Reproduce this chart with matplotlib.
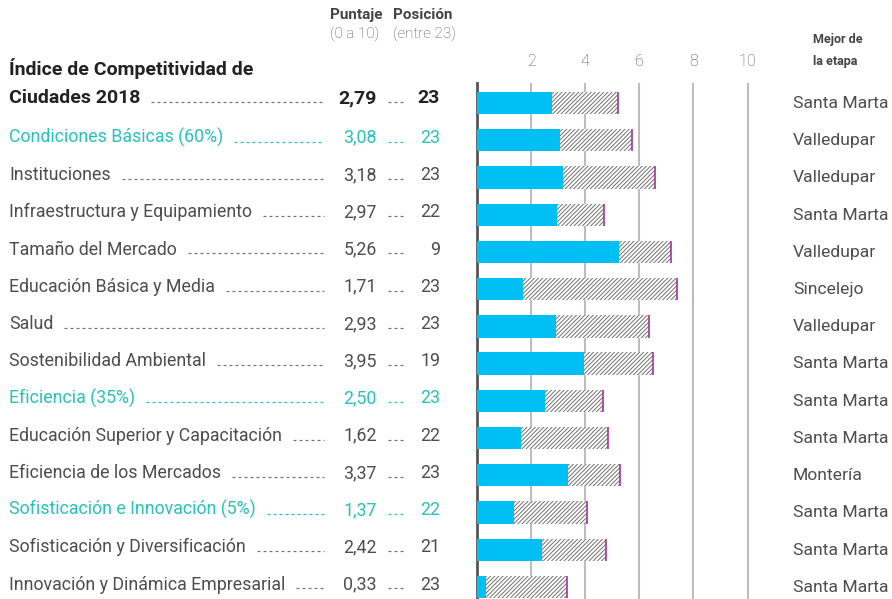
import matplotlib.pyplot as plt
from matplotlib.transforms import blended_transform_factory

plt.rcParams['font.family'] = ['Roboto', 'DejaVu Sans']
plt.rcParams['hatch.linewidth'] = 0.7

# Data
labels = ["Ciudades 2018", "Condiciones Básicas (60%)", "Instituciones",
          "Infraestructura y Equipamiento", "Tamaño del Mercado",
          "Educación Básica y Media", "Salud", "Sostenibilidad Ambiental",
          "Eficiencia (35%)", "Educación Superior y Capacitación",
          "Eficiencia de los Mercados", "Sofisticación e Innovación (5%)",
          "Sofisticación y Diversificación", "Innovación y Dinámica Empresarial"]
scores = [2.79, 3.08, 3.18, 2.97, 5.26, 1.71, 2.93, 3.95, 2.50, 1.62, 3.37, 1.37, 2.42, 0.33]
positions = [23, 23, 23, 22, 9, 23, 23, 19, 23, 22, 23, 22, 21, 23]
best_scores = [5.21, 5.73, 6.58, 4.71, 7.18, 7.40, 6.37, 6.52, 4.67, 4.85, 5.29, 4.07, 4.76, 3.33]
best_city = ["Santa Marta", "Valledupar", "Valledupar", "Santa Marta", "Valledupar",
             "Sincelejo", "Valledupar", "Santa Marta", "Santa Marta", "Santa Marta",
             "Montería", "Santa Marta", "Santa Marta", "Santa Marta"]
pillars = [1, 8, 11]   # rows drawn in teal
grid_ticks = [2, 4, 6, 8, 10]

BLUE = '#00bff3'
TEAL = '#26c2bc'
GRAY = '#4d4d4d'
DARK = '#222222'
PURPLE = '#a3359b'

W, H = 892, 599
fig = plt.figure(figsize=(W / 100, H / 100), dpi=100)

# bar panel, placed in pixel units
x0, x1 = 477, 774.5
top, bottom = 83, 599
ax = fig.add_axes([x0 / W, 1 - bottom / H, (x1 - x0) / W, (bottom - top) / H])
row_px = 37.23
ax.set_xlim(0, (x1 - x0) / 27.05)
ax.set_ylim(13 + (bottom - 587) / row_px, -(103 - top) / row_px)

rows = list(range(len(labels)))
ax.barh(rows, scores, height=0.6, color=BLUE, zorder=3)
ax.barh(rows, [b - s for b, s in zip(best_scores, scores)], left=scores, height=0.6,
        facecolor='white', edgecolor='#707070', hatch='////////', linewidth=0, zorder=3)
ax.vlines(best_scores, [r - 0.3 for r in rows], [r + 0.3 for r in rows],
          color=PURPLE, linewidth=1.2, zorder=4)

for t in grid_ticks:
    ax.axvline(t, color='#bdbdbd', linewidth=1.5, zorder=1)
ax.set_xticks(grid_ticks)
ax.set_xticklabels([str(t) for t in grid_ticks], fontsize=11.5, color='#555555',
                   fontweight='light')
ax.xaxis.tick_top()
ax.tick_params(axis='x', length=0, pad=10)
ax.set_yticks([])
for side in ['top', 'right', 'bottom']:
    ax.spines[side].set_visible(False)
ax.spines['left'].set_color('#555555')
ax.spines['left'].set_linewidth(2)

# table on the left, x in figure pixels, y in rows
tr = blended_transform_factory(fig.transFigure, ax.transData)


def fx(px):
    return px / W


base = 0.07
fig.canvas.draw()
renderer = fig.canvas.get_renderer()
for i, lab in enumerate(labels):
    col = TEAL if i in pillars else GRAY
    weight = 'normal'
    fs = 12.8
    if i == 0:
        col, weight, fs = DARK, 'bold', 14
    y = i + (0.0 if i == 0 else base)
    t = ax.text(fx(9), y, lab, transform=tr, ha='left', va='baseline',
                fontsize=fs, color=col, fontweight=weight, clip_on=False)
    ax.text(fx(377), y, f"{scores[i]:.2f}".replace('.', ','), transform=tr,
            ha='right', va='baseline', fontsize=fs, color=col, fontweight=weight)
    ax.text(fx(440), y, str(positions[i]), transform=tr, ha='right', va='baseline',
            fontsize=fs, color=col, fontweight=weight)
    # dotted leaders
    bb = t.get_window_extent(renderer)
    lead_start = bb.x1 + 11
    ly = y - 0.03
    lcol = TEAL if i in pillars else '#777777'
    ax.plot([fx(lead_start), fx(324)], [ly, ly], transform=tr, color=lcol,
            linewidth=0.9, linestyle=(0, (2.4, 2.4)), clip_on=False)
    ax.plot([fx(388), fx(404)], [ly, ly], transform=tr, color=lcol,
            linewidth=0.9, linestyle=(0, (2.4, 2.4)), clip_on=False)
    ax.text(fx(793), i + 0.13, best_city[i], transform=tr, ha='left', va='baseline',
            fontsize=12.6, color=GRAY, clip_on=False)

ax.text(fx(9), -0.75, "Índice de Competitividad de", transform=tr, ha='left',
        va='baseline', fontsize=14, color=DARK, fontweight='bold')

# column headers
fig.text(fx(330), 1 - 15 / H, "Puntaje", ha='left', va='center', fontsize=11,
         color='#444444', fontweight='bold')
fig.text(fx(393), 1 - 15 / H, "Posición", ha='left', va='center', fontsize=11,
         color='#444444', fontweight='bold')
fig.text(fx(330), 1 - 34 / H, "(0 a 10)", ha='left', va='center', fontsize=11,
         color='#555555', fontweight='light')
fig.text(fx(393), 1 - 34 / H, "(entre 23)", ha='left', va='center', fontsize=11,
         color='#555555', fontweight='light')
fig.text(fx(813), 1 - 40 / H, "Mejor de", ha='left', va='center', fontsize=9,
         color='#444444', fontweight='bold')
fig.text(fx(813), 1 - 61 / H, "la etapa", ha='left', va='center', fontsize=9,
         color='#444444', fontweight='bold')

fig.savefig('out.png', dpi=100)
